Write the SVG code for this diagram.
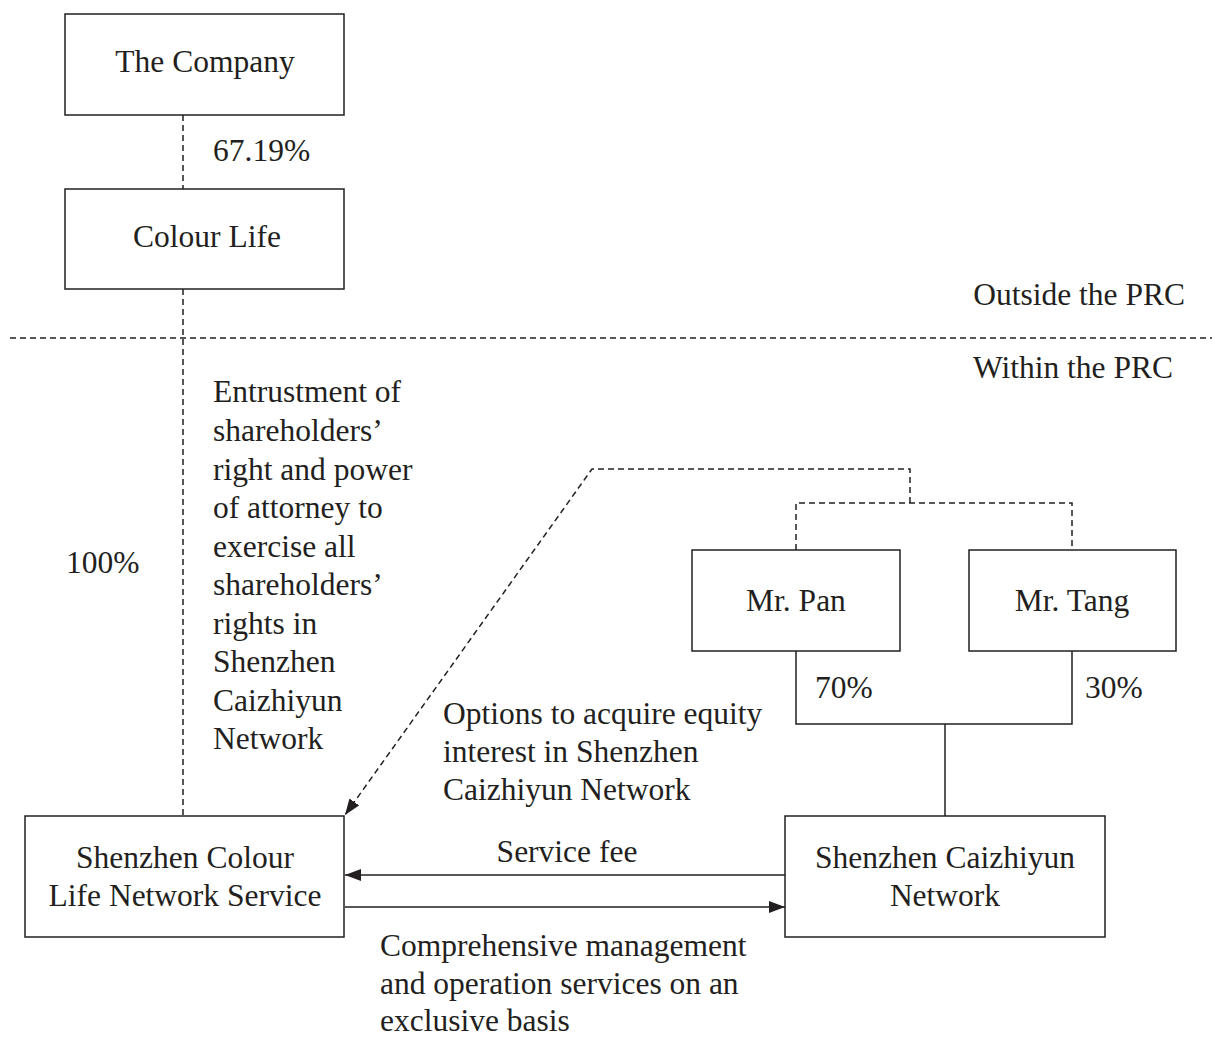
<svg xmlns="http://www.w3.org/2000/svg" width="1214" height="1039" viewBox="0 0 1214 1039">
<style>
text{font-family:"Liberation Serif","Times New Roman",serif;font-size:31.5px;fill:#231f20}
.box{fill:#fff;stroke:#231f20;stroke-width:1.5}
.ln{fill:none;stroke:#231f20;stroke-width:1.5}
.d{stroke-dasharray:6 4}
.c{text-anchor:middle}
</style>
<defs>
<marker id="ah" viewBox="0 0 16 12" refX="16" refY="6" markerWidth="16" markerHeight="12" markerUnits="userSpaceOnUse" orient="auto">
<path d="M0,0 L16,6 L0,12 z" fill="#231f20"/>
</marker>
</defs>
<rect width="1214" height="1039" fill="#fff"/>
<g id="connectors">
<line class="ln d" x1="183" y1="115" x2="183" y2="189"/>
<line class="ln d" x1="183" y1="289" x2="183" y2="815"/>
<line class="ln d" x1="10" y1="338" x2="1212" y2="338"/>
<polyline class="ln d" points="796,550 796,503 1072,503 1072,550"/>
<polyline class="ln d" points="910,503 910,469 592,469 345,815" marker-end="url(#ah)"/>
<polyline class="ln" points="796,651 796,724 1072,724 1072,651"/>
<line class="ln" x1="945" y1="724" x2="945" y2="816"/>
<line class="ln" x1="785" y1="875" x2="345" y2="875" marker-end="url(#ah)"/>
<line class="ln" x1="345" y1="907" x2="785" y2="907" marker-end="url(#ah)"/>
</g>
<g id="company"><rect class="box" x="65" y="14" width="279" height="101"/><text class="c" x="205" y="72">The Company</text></g>
<g id="colourlife"><rect class="box" x="65" y="189" width="279" height="100"/><text class="c" x="207" y="247">Colour Life</text></g>
<g id="mrpan"><rect class="box" x="692" y="550" width="208" height="101"/><text class="c" x="796" y="611">Mr. Pan</text></g>
<g id="mrtang"><rect class="box" x="969" y="550" width="207" height="101"/><text class="c" x="1072" y="611">Mr. Tang</text></g>
<g id="szcl"><rect class="box" x="25" y="816" width="319" height="121"/><text class="c" x="185" y="868">Shenzhen Colour</text><text class="c" x="185" y="906">Life Network Service</text></g>
<g id="szcz"><rect class="box" x="785" y="816" width="320" height="121"/><text class="c" x="945" y="868">Shenzhen Caizhiyun</text><text class="c" x="945" y="906">Network</text></g>
<g id="labels">
<text x="213" y="161">67.19%</text>
<text x="1185" y="305" text-anchor="end">Outside the PRC</text>
<text x="973" y="378">Within the PRC</text>
<text x="66" y="573">100%</text>
<text x="213" y="402">Entrustment of</text>
<text x="213" y="441">shareholders’</text>
<text x="213" y="480">right and power</text>
<text x="213" y="518">of attorney to</text>
<text x="213" y="557">exercise all</text>
<text x="213" y="595">shareholders’</text>
<text x="213" y="634">rights in</text>
<text x="213" y="672">Shenzhen</text>
<text x="213" y="711">Caizhiyun</text>
<text x="213" y="749">Network</text>
<text x="443" y="724">Options to acquire equity</text>
<text x="443" y="762">interest in Shenzhen</text>
<text x="443" y="800">Caizhiyun Network</text>
<text x="815" y="698">70%</text>
<text x="1085" y="698">30%</text>
<text class="c" x="567" y="862">Service fee</text>
<text x="380" y="956">Comprehensive management</text>
<text x="380" y="994">and operation services on an</text>
<text x="380" y="1031">exclusive basis</text>
</g>
</svg>
